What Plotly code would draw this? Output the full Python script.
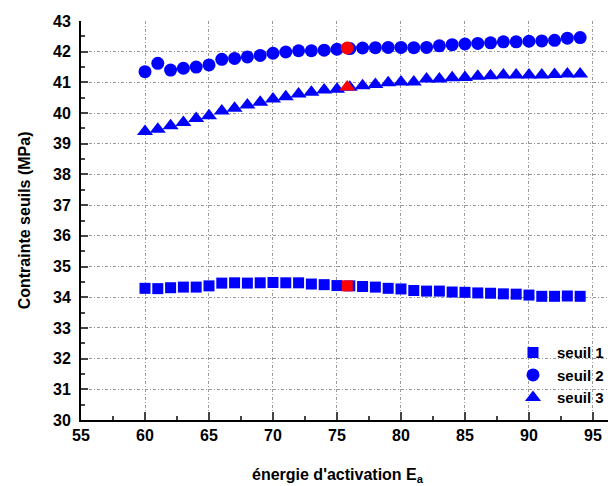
import plotly.graph_objects as go

energie = list(range(60, 95))
seuil1 = [34.29, 34.28, 34.31, 34.33, 34.33, 34.37, 34.46, 34.47, 34.46, 34.47,
          34.48, 34.47, 34.47, 34.43, 34.41, 34.38, 34.37, 34.35, 34.33, 34.29,
          34.27, 34.22, 34.20, 34.20, 34.17, 34.16, 34.14, 34.13, 34.11, 34.10,
          34.07, 34.03, 34.03, 34.04, 34.03]
seuil2 = [41.35, 41.62, 41.40, 41.46, 41.50, 41.57, 41.75, 41.78, 41.83, 41.88,
          41.95, 41.99, 42.03, 42.03, 42.05, 42.08, 42.10, 42.12, 42.13, 42.14,
          42.14, 42.13, 42.14, 42.19, 42.23, 42.25, 42.27, 42.29, 42.32, 42.32,
          42.34, 42.35, 42.37, 42.44, 42.46]
seuil3 = [39.40, 39.47, 39.59, 39.69, 39.82, 39.91, 40.07, 40.16, 40.26, 40.35,
          40.46, 40.53, 40.62, 40.68, 40.75, 40.78, 40.84, 40.89, 40.93, 40.99,
          41.01, 41.01, 41.11, 41.11, 41.15, 41.16, 41.20, 41.22, 41.24, 41.24,
          41.24, 41.24, 41.26, 41.27, 41.27]
red_x = [75.8]
red_s1 = [34.37]
red_s2 = [42.12]
red_s3 = [40.85]

x_title = "énergie d'activation E<sub>a</sub>"
y_title = "Contrainte seuils (MPa)"

font_family = "Liberation Sans, Arial, sans-serif"
blue = "#0000FF"
red = "#FF0000"

fig = go.Figure()
fig.add_trace(go.Scatter(x=energie, y=seuil1, mode="markers", name="seuil 1",
                         marker=dict(symbol="square", size=11, color=blue)))
fig.add_trace(go.Scatter(x=energie, y=seuil2, mode="markers", name="seuil 2",
                         marker=dict(symbol="circle", size=13, color=blue)))
fig.add_trace(go.Scatter(x=energie, y=seuil3, mode="markers", name="seuil 3",
                         marker=dict(symbol="triangle-up", size=14, color=blue)))
fig.add_trace(go.Scatter(x=red_x, y=red_s1, mode="markers", showlegend=False,
                         marker=dict(symbol="square", size=11, color=red)))
fig.add_trace(go.Scatter(x=red_x, y=red_s2, mode="markers", showlegend=False,
                         marker=dict(symbol="circle", size=13, color=red)))
fig.add_trace(go.Scatter(x=red_x, y=red_s3, mode="markers", showlegend=False,
                         marker=dict(symbol="triangle-up", size=14, color=red)))

grid = dict(showgrid=True, gridcolor="#999999", gridwidth=1, griddash="3px,2px,1px,2px")
fig.update_layout(
    width=608, height=478,
    margin=dict(l=73, r=0, t=13, b=66, autoexpand=False),
    paper_bgcolor="white", plot_bgcolor="white",
    font=dict(family=font_family, size=16, color="black"),
    legend=dict(x=0.80, y=0.21, xanchor="left", yanchor="top",
                bgcolor="rgba(0,0,0,0)", font=dict(size=15, family=font_family, weight="bold"),
                itemwidth=38, tracegroupgap=0),
    xaxis=dict(range=[55, 96.8], dtick=5, tick0=55, ticks="inside", ticklen=8,
               tickwidth=1.5, showline=True, linecolor="black", linewidth=2,
               zeroline=False, tickfont=dict(size=16, weight="bold"), automargin=False,
               minor=dict(dtick=2.5, ticks="inside", ticklen=4, tickwidth=1.5, showgrid=False),
               **grid),
    yaxis=dict(range=[30, 43], dtick=1, tick0=30, ticks="inside", ticklen=7,
               tickwidth=1.5, showline=True, linecolor="black", linewidth=2,
               zeroline=False, tickfont=dict(size=16, weight="bold"), automargin=False,
               ticklabelstandoff=5,
               minor=dict(dtick=0.5, ticks="inside", ticklen=4, tickwidth=1.5, showgrid=False),
               **grid),
    annotations=[
        dict(text=x_title, xref="paper", yref="paper", x=0.48, y=-0.14,
             xanchor="center", yanchor="middle", showarrow=False,
             font=dict(size=16, weight="bold")),
        dict(text=y_title, xref="paper", yref="paper", x=-0.105, y=0.5,
             xanchor="center", yanchor="middle", textangle=-90, showarrow=False,
             font=dict(size=16, weight="bold")),
    ],
)

fig.write_html("out.html")
